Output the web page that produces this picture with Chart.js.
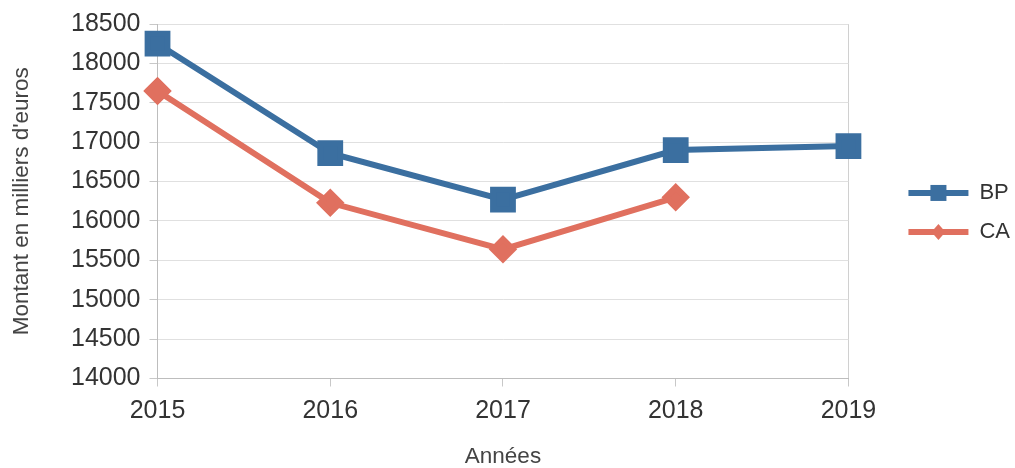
<!DOCTYPE html>
<html>
<head>
<meta charset="utf-8">
<script src="https://cdn.jsdelivr.net/npm/chart.js@4/dist/chart.umd.min.js"></script>
<style>
  html, body { margin: 0; padding: 0; background: #fff; }
  #wrap { width: 1015px; height: 468px; }
</style>
</head>
<body>
<div id="wrap"><canvas id="line-chartcanvas"></canvas></div>
<script>
// données
var annees = ["2015", "2016", "2017", "2018", "2019"];
var valeursBP = [18250, 16860, 16270, 16900, 16950];
var valeursCA = [17650, 16230, 15640, 16300, null];
var ticksY = [14000, 14500, 15000, 15500, 16000, 16500, 17000, 17500, 18000, 18500];

var couleurBP = "#3b6fa0";
var couleurCA = "#e0705f";

// dessine le marqueur au milieu de la ligne de légende
var legendMarkers = {
	id : "legendMarkers",
	afterDraw : function(chart) {
		var lg = chart.legend;
		if (!lg || !lg.legendHitBoxes) return;
		var ctx = chart.ctx;
		lg.legendHitBoxes.forEach(function(box, i) {
			var ds = chart.data.datasets[i];
			var cx = box.left + 30;
			var cy = box.top + box.height / 2;
			ctx.save();
			ctx.fillStyle = ds.borderColor;
			if (ds.pointStyle === "rect") {
				ctx.fillRect(cx - 8, cy - 8, 16, 16);
			} else {
				ctx.beginPath();
				ctx.moveTo(cx, cy - 8);
				ctx.lineTo(cx + 7, cy);
				ctx.lineTo(cx, cy + 8);
				ctx.lineTo(cx - 7, cy);
				ctx.closePath();
				ctx.fill();
			}
			ctx.restore();
		});
	}
};

var ctx = document.getElementById("line-chartcanvas");

var data = {
	labels : annees,
	datasets : [
		{
			label : "BP",
			data : valeursBP,
			borderColor : couleurBP,
			backgroundColor : couleurBP,
			borderWidth : 6,
			fill : false,
			lineTension : 0,
			pointStyle : "rect",
			pointRadius : 14,
			pointHoverRadius : 14
		},
		{
			label : "CA",
			data : valeursCA,
			borderColor : couleurCA,
			backgroundColor : couleurCA,
			borderWidth : 6,
			fill : false,
			lineTension : 0,
			pointStyle : "rectRot",
			pointRadius : 10,
			pointHoverRadius : 10
		}
	]
};

var options = {
	responsive : true,
	maintainAspectRatio : false,
	animation : false,
	layout : {
		padding : { top : 10, right : -5, bottom : 0, left : 8 }
	},
	plugins : {
		legend : {
			display : true,
			position : "right",
			fullSize : false,
			title : {
				display : true,
				text : " ",
				padding : 4,
				font : { size : 12 }
			},
			labels : {
				usePointStyle : true,
				pointStyle : "line",
				pointStyleWidth : 60,
				padding : 17,
				color : "#333",
				font : { family : "Liberation Sans", size : 22 }
			}
		},
		tooltip : { enabled : false }
	},
	scales : {
		x : {
			offset : false,
			grid : {
				color : function(c) {
					return (c.index === 0 || c.index === annees.length - 1) ? "#d0d0d0" : "rgba(0,0,0,0)";
				},
				tickColor : "#c8c8c8",
				tickLength : 8
			},
			border : { color : "#bdbdbd" },
			ticks : {
				color : "#333",
				padding : 10,
				font : { family : "Liberation Sans", size : 25 }
			},
			title : {
				display : true,
				text : "Années",
				color : "#444",
				padding : { top : 9, bottom : 0 },
				font : { family : "Liberation Sans", size : 22.5, lineHeight : 1.0 }
			}
		},
		y : {
			min : 14000,
			max : 18500,
			afterBuildTicks : function(axis) {
				axis.ticks = ticksY.map(function(v) { return { value : v }; });
			},
			grid : {
				color : "#e0e0e0",
				tickColor : "#c8c8c8",
				tickLength : 8
			},
			border : { color : "#bdbdbd" },
			ticks : {
				color : "#333",
				padding : 9,
				font : { family : "Liberation Sans", size : 25 },
				callback : function(v) { return String(v); }
			},
			title : {
				display : true,
				text : "Montant en milliers d'euros",
				color : "#444",
				padding : { top : 0, bottom : 27 },
				font : { family : "Liberation Sans", size : 22.5 }
			}
		},
		// axe vide pour laisser l'espace entre le graphique et la légende
		espace : {
			type : "linear",
			position : "right",
			display : true,
			grid : { display : false },
			border : { display : false },
			ticks : { display : false },
			afterFit : function(scale) { scale.width = 43; }
		}
	}
};

var chart = new Chart(ctx, {
	type : "line",
	data : data,
	options : options,
	plugins : [legendMarkers]
});
</script>
</body>
</html>
